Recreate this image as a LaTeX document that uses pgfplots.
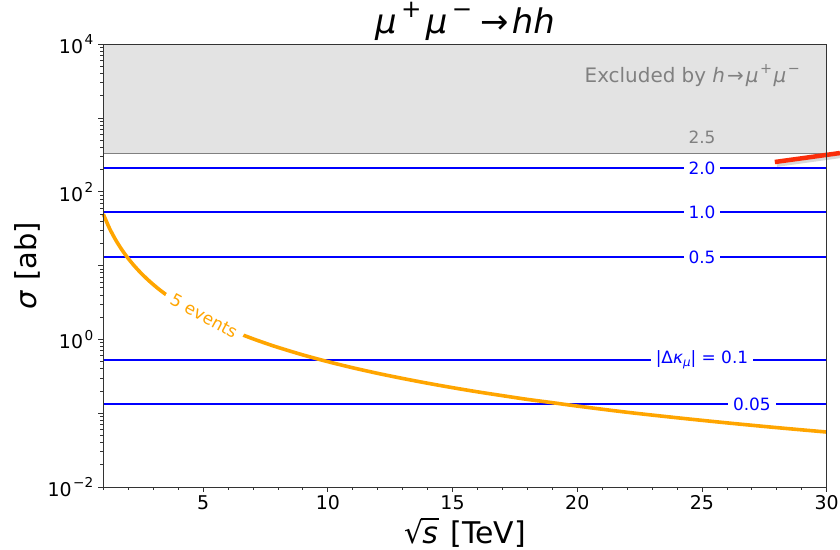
\documentclass[border=0pt]{standalone}
\usepackage{pgfplots}
\pgfplotsset{compat=1.18}
\usepackage{fontspec}
\setmainfont{DejaVu Sans}

\definecolor{exclfill}{RGB}{227,227,227}
\definecolor{exclgray}{RGB}{128,128,128}
\definecolor{mplorange}{RGB}{255,165,0}
\definecolor{annred}{RGB}{250,45,10}
\definecolor{mplblue}{RGB}{0,0,255}
\newcommand{\supx}[1]{\kern0.08em\raisebox{0.45em}{\scalebox{0.72}{#1}}\kern0.08em}
\newcommand{\subx}[1]{\raisebox{-0.22em}{\scalebox{0.7}{#1}}}
\newcommand{\fs}[1]{\fontsize{#1}{#1}\selectfont}

\begin{document}
\begin{tikzpicture}
  \begin{axis}[
    at={(0,0)}, anchor=south west,
    scale only axis, width=723.4bp, height=442.7bp,
    ymode=log, xmin=1, xmax=30, ymin=0.01, ymax=10000,
    axis on top, clip=false,
    axis line style={black!80, line width=0.9bp},
    tick align=outside, tick pos=left,
    major tick length=5bp, minor tick length=3bp,
    every tick/.style={black!80, line width=0.8bp},
    xtick={5,10,15,20,25,30}, minor xtick={1,...,30},
    ytick={0.01,0.1,1,10,100,1000,10000},
    yticklabels={10\supx{−2},{},10\supx{0},{},10\supx{2},{},10\supx{4}},
    minor ytick={0.02,0.03,0.04,0.05,0.06,0.07,0.08,0.09,
                 0.2,0.3,0.4,0.5,0.6,0.7,0.8,0.9,
                 2,3,4,5,6,7,8,9,20,30,40,50,60,70,80,90,
                 200,300,400,500,600,700,800,900,
                 2000,3000,4000,5000,6000,7000,8000,9000},
    /pgf/number format/assume math mode=true,
    tick label style={font=\fs{19}},
    xlabel={√\kern-0.06em\rlap{\rule[0.80em]{0.58em}{0.06em}}\kern0.03em\textit{s}\kern0.1em{} [TeV]},
    ylabel={\textit{σ} [ab]},
    every axis x label/.style={at={(axis description cs:0.5,-0.104)}, anchor=center, font=\fs{30}},
    every axis y label/.style={at={(axis description cs:-0.105,0.5)}, rotate=90, anchor=center, font=\fs{29}},
  ]
    % excluded region
    \addplot[fill=exclfill, draw=none] coordinates {(1,333)(30,333)(30,10000)(1,10000)(1,333)};
    \addplot[exclgray, line width=1.3bp] coordinates {(1,333)(30,333)};

    % |Delta kappa_mu| contours
    \addplot[mplblue, line width=1.8bp] coordinates {(1,211)(30,211)};
    \addplot[mplblue, line width=1.8bp] coordinates {(1,53.2)(30,53.2)};
    \addplot[mplblue, line width=1.8bp] coordinates {(1,13.1)(30,13.1)};
    \addplot[mplblue, line width=1.8bp] coordinates {(1,0.532)(30,0.532)};
    \addplot[mplblue, line width=1.8bp] coordinates {(1,0.133)(30,0.133)};

    % 5 events
    \addplot[mplorange, line width=3.6bp, smooth] coordinates {
      (1,50)(1.25,32)(1.5,22.22)(1.75,16.33)(2,12.5)(2.25,9.877)(2.5,8)
      (2.75,6.612)(3,5.556)(3.25,4.734)(3.5,4.082)(3.75,3.556)(4,3.125)
      (4.5,2.469)(5,2)(5.5,1.653)(6,1.389)(6.5,1.183)(7,1.020)(7.5,0.889)
      (8,0.781)(9,0.617)(10,0.5)(11,0.413)(12,0.347)(13,0.296)(14,0.255)
      (15,0.222)(16,0.195)(17,0.173)(18,0.154)(19,0.139)(20,0.125)
      (22,0.103)(24,0.0868)(26,0.0740)(28,0.0638)(30,0.0556)};

    % red annotation line with shadow
    \addplot[black!22, line width=5bp, opacity=0.7] coordinates {(28.0,236)(30.6,312)};
    \addplot[annred, line width=4.5bp] coordinates {(27.92,254)(30.53,336)};

    % labels
    \node[font=\fs{17}, text=mplblue, fill=white, inner xsep=5bp, inner ysep=1bp] at (axis cs:25,211) {2.0};
    \node[font=\fs{17}, text=mplblue, fill=white, inner xsep=5bp, inner ysep=1bp] at (axis cs:25,53.2) {1.0};
    \node[font=\fs{17}, text=mplblue, fill=white, inner xsep=5bp, inner ysep=1bp] at (axis cs:25,13.1) {0.5};
    \node[font=\fs{17}, text=mplblue, fill=white, inner xsep=5bp, inner ysep=1bp] at (axis cs:25,0.532)
      {|Δ\textit{κ}\subx{\textit{μ}}| = 0.1};
    \node[font=\fs{17}, text=mplblue, fill=white, inner xsep=5bp, inner ysep=1bp] at (axis cs:27,0.133) {0.05};
    \node[font=\fs{17}, text=exclgray] at (axis cs:25,555) {2.5};
    \node[font=\fs{17}, text=mplorange, fill=white, rotate=-28.3, inner xsep=7bp, inner ysep=1bp]
      at (axis cs:5.04,2.08) {5 events};
    \node[font=\fs{20}, text=exclgray, anchor=east, inner sep=0pt] at (axis cs:29.0,3720)
      {Excluded by \textit{h}\kern0.1em→\kern0.1em\textit{μ}\supx{+}\textit{μ}\supx{−}};
    \node[font=\fs{34}] at (axis description cs:0.5,1.052)
      {\textit{μ}\kern0.05em\supx{+}\kern0.05em\textit{μ}\kern0.05em\supx{−}\kern0.15em→\kern0.1em\textit{hh}};
  \end{axis}
  \pgfresetboundingbox
  \useasboundingbox (-103.3bp,-63bp) rectangle (736.7bp,487bp);
\end{tikzpicture}
\end{document}
